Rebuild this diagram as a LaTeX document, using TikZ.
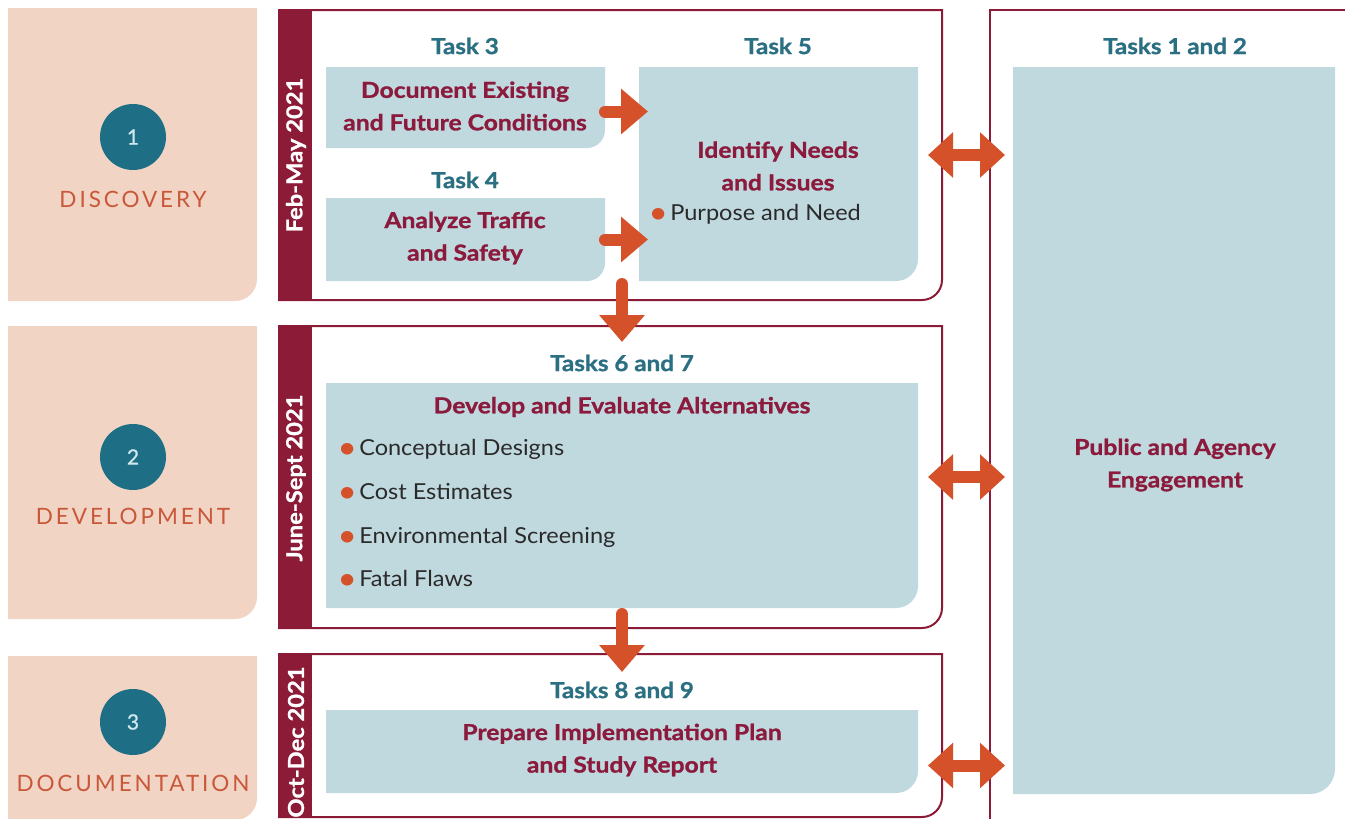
\documentclass[tikz,border=0pt]{standalone}
\usepackage{fontspec}
\setmainfont{Lato}
\usetikzlibrary{arrows.meta,calc}
\definecolor{peach}{HTML}{F1D4C3}
\definecolor{tealc}{HTML}{1E6F85}
\definecolor{tealtext}{HTML}{2B6F82}
\definecolor{phasec}{HTML}{C9583A}
\definecolor{darkred}{HTML}{8C1B37}
\definecolor{bluebox}{HTML}{C0D9DF}
\definecolor{titlec}{HTML}{8B1A3C}
\definecolor{arrowc}{HTML}{D5512A}
\definecolor{bodyc}{HTML}{2A2A2A}
\definecolor{numc}{HTML}{D0E8EE}
\newcommand\brshape[3]{\path[#3] (#1.north west) -- (#1.north east) -- ([yshift=#2pt]#1.south east) arc[start angle=0,end angle=90,radius=#2] -- (#1.south west) -- cycle;}
\newcommand\bul{{\color{arrowc}\raisebox{-2.5pt}{\fontsize{31}{31}\selectfont\textbullet}}\hspace{2.5pt}}
\begin{document}
\begin{tikzpicture}[x=1pt,y=-1pt,
 area/.style={rectangle,draw=none,inner sep=0,outer sep=0},
 lbl/.style={font=\fontsize{22}{25}\selectfont\bfseries\addfontfeature{FakeStretch=1.1,FakeBold=1}, text=tealtext},
 ttl/.style={font=\fontsize{22}{32.5}\selectfont\bfseries\addfontfeature{FakeStretch=1.12,FakeBold=1.2}, text=titlec, align=center},
 body/.style={font=\fontsize{22}{25}\selectfont\addfontfeature{FakeStretch=1.07}, text=bodyc, anchor=west, text height=16pt, text depth=5pt},
 arr/.style={draw=arrowc, line width=12pt, line cap=round, -{Triangle[length=27pt,width=44pt]}},
 dbl/.style={draw=arrowc, line width=12pt, {Triangle[length=25pt,width=44pt]}-{Triangle[length=25pt,width=44pt]}},
 circ/.style={circle, fill=tealc, minimum size=66pt, inner sep=0, text=numc, font=\fontsize{21}{24}\selectfont\addfontfeature{FakeBold=0.8}},
 phase/.style={text=phasec, font=\fontsize{22.5}{26}\selectfont\addfontfeature{LetterSpace=13}},
 strip/.style={rotate=90, text=white, font=\fontsize{22}{25}\selectfont\bfseries\addfontfeature{FakeStretch=1.08,FakeBold=1}}
]
\useasboundingbox (0,0) rectangle (1345,819);
\fill[white] (0,0) rectangle (1345,819);

% area nodes
\node[area, minimum width=249pt, minimum height=293pt] (pp1) at (132.5,154.5) {};
\node[area, minimum width=249pt, minimum height=293pt] (pp2) at (132.5,472.5) {};
\node[area, minimum width=249pt, minimum height=164pt] (pp3) at (132.5,738) {};
\node[area, minimum width=663pt, minimum height=290pt] (p1) at (610.5,155) {};
\node[area, minimum width=663pt, minimum height=302pt] (p2) at (610.5,477) {};
\node[area, minimum width=663pt, minimum height=163pt] (p3) at (610.5,735.5) {};
\node[area, minimum width=360pt, minimum height=820pt] (pr) at (1170,420) {};
\node[area, minimum width=322pt, minimum height=727pt] (tr) at (1174,430.5) {};
\node[area, minimum width=279pt, minimum height=81pt] (t3) at (465.5,107.5) {};
\node[area, minimum width=279pt, minimum height=83pt] (t4) at (465.5,239.5) {};
\node[area, minimum width=279pt, minimum height=214pt] (t5) at (778.5,174) {};
\node[area, minimum width=592pt, minimum height=225pt] (t67) at (622,495.5) {};
\node[area, minimum width=592pt, minimum height=83pt] (t89) at (622,751.5) {};

% fills
\brshape{pp1}{22}{fill=peach}
\brshape{pp2}{22}{fill=peach}
\brshape{pp3}{22}{fill=peach}
\brshape{p1}{20}{draw=darkred, line width=2pt, fill=white}
\brshape{p2}{20}{draw=darkred, line width=2pt, fill=white}
\brshape{p3}{20}{draw=darkred, line width=2pt, fill=white}
\fill[darkred] (p1.north west) rectangle ([xshift=33pt]p1.south west);
\fill[darkred] (p2.north west) rectangle ([xshift=33pt]p2.south west);
\fill[darkred] (p3.north west) rectangle ([xshift=33pt]p3.south west);
\draw[darkred, line width=2pt] (pr.south west) -- (pr.north west) -- (pr.north east);
\brshape{tr}{25}{fill=bluebox}
\brshape{t3}{18}{fill=bluebox}
\brshape{t4}{18}{fill=bluebox}
\brshape{t5}{22}{fill=bluebox}
\brshape{t67}{22}{fill=bluebox}
\brshape{t89}{22}{fill=bluebox}

% phase labels
\node[circ] (c1) at (133,137) {1};
\node[phase] (n1) at (133,199) {DISCOVERY};
\node[circ] (c2) at (133,457) {2};
\node[phase] (n2) at (133,516) {DEVELOPMENT};
\node[circ] (c3) at (133,722) {3};
\node[phase] (n3) at (133,783) {DOCUMENTATION};

\node[strip] (d1) at (296,155) {Feb-May 2021};
\node[strip] (d2) at (296,478) {June-Sept 2021};
\node[strip] (d3) at (296,742) {Oct-Dec 2021};

% task labels
\node[lbl] (l3) at (465,46) {Task 3};
\node[lbl] (l4) at (465,180) {Task 4};
\node[lbl] (l5) at (778,46) {Task 5};
\node[lbl] (l67) at (622,363) {Tasks 6 and 7};
\node[lbl] (l89) at (622,690) {Tasks 8 and 9};
\node[lbl] (l12) at (1175,46) {Tasks 1 and 2};

% titles
\node[ttl] (x3) at (465,106) {Document Existing\\and Future Conditions};
\node[ttl] (x4) at (465,238) {Analyze Traffic\\and Safety};
\node[ttl] (x5) at (778,166) {Identify Needs\\and Issues};
\node[body] (b5) at (645,215) {\bul Purpose and Need};
\node[ttl] (x67) at (622,407) {Develop and Evaluate Alternatives};
\node[body] (b1) at (334,450) {\bul Conceptual Designs};
\node[body] (b2) at (334,494) {\bul Cost Estimates};
\node[body] (b3) at (334,538) {\bul Environmental Screening};
\node[body] (b4) at (334,581) {\bul Fatal Flaws};
\node[ttl] (x89) at (622,750) {Prepare Implementation Plan\\and Study Report};
\node[ttl] (x12) at (1175,465) {Public and Agency\\Engagement};

% arrows
\draw[arr] ([yshift=-4pt]t3.east) -- ([xshift=9pt,yshift=-4pt]t5.west |- t3.east);
\draw[arr] (t4.east) -- ([xshift=9pt]t5.west |- t4.east);
\coordinate (m1) at ($(t4.south east)!0.5!(t5.south west)$);
\draw[arr] ([yshift=-3pt]m1) -- ([yshift=-16pt]m1 |- p2.north);
\draw[arr] ([yshift=-6pt]t67.south) -- ([yshift=-18pt]t67.south |- p3.north);
\draw[dbl] ([xshift=-14pt]p1.east) -- ([xshift=15pt]pr.west |- p1.east);
\draw[dbl] ([xshift=-14pt]p2.east) -- ([xshift=15pt]pr.west |- p2.east);
\draw[dbl] ([xshift=-14pt,yshift=-30pt]p3.east) -- ([xshift=15pt,yshift=-30pt]pr.west |- p3.east);
\end{tikzpicture}
\end{document}
